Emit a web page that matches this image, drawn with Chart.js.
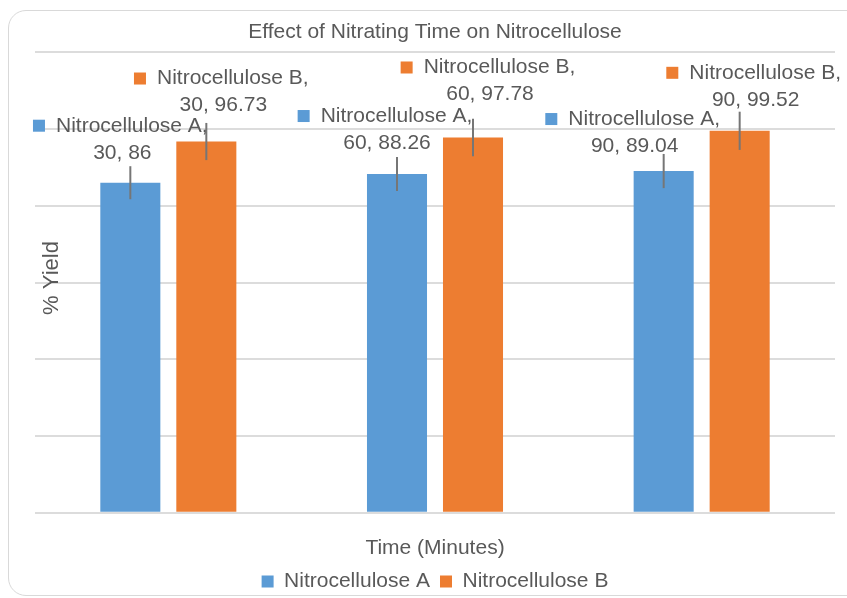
<!DOCTYPE html>
<html>
<head>
<meta charset="utf-8">
<script src="https://cdn.jsdelivr.net/npm/chart.js@4.4.1/dist/chart.umd.min.js"></script>
<style>
  html, body { margin: 0; padding: 0; background: #fff; overflow: hidden; }
  #wrap { position: relative; width: 847px; height: 598px; }
  #frame { position: absolute; left: 8px; top: 10px; width: 900px; height: 586px;
           border: 1.5px solid #d9d9d9; border-radius: 18px; box-sizing: border-box; }
  canvas { position: absolute; left: 0; top: 0; }
</style>
</head>
<body>
<div id="wrap">
  <div id="frame"></div>
  <canvas id="c" width="847" height="598"></canvas>
</div>
<script>
// ---- data ----
const categories = ['30', '60', '90'];
const seriesNames = ['Nitrocellulose A', 'Nitrocellulose B'];
const seriesA = [86, 88.26, 89.04];
const seriesB = [96.73, 97.78, 99.52];
const errorA = [4.3, 4.41, 4.45];
const errorB = [4.84, 4.89, 4.98];
const yTickValues = [0, 20, 40, 60, 80, 100, 120];

// ---- styles ----
const colA = '#5B9BD5';
const colB = '#ED7D31';
const textCol = '#595959';
const FONT = '"Liberation Sans", Arial, sans-serif';
// label offsets (dx from bar centre, dy of 2nd line from bar top), pixels
const labelOffA = [[-8, -30], [-10, -31], [-29, -25]];
const labelOffB = [[17, -36], [17, -43], [16, -31]];

const errorBarPlugin = {
  id: 'errorBars',
  afterDatasetsDraw(chart) {
    const ctx = chart.ctx, y = chart.scales.y;
    const errs = [errorA, errorB];
    ctx.save();
    ctx.strokeStyle = '#767676';
    ctx.lineWidth = 2;
    chart.data.datasets.forEach((ds, di) => {
      chart.getDatasetMeta(di).data.forEach((bar, i) => {
        const v = ds.data[i], e = errs[di][i];
        ctx.beginPath();
        ctx.moveTo(bar.x, y.getPixelForValue(v + e));
        ctx.lineTo(bar.x, y.getPixelForValue(v - e));
        ctx.stroke();
      });
    });
    ctx.restore();
  }
};

const labelPlugin = {
  id: 'dataLabels',
  afterDraw(chart) {
    const ctx = chart.ctx;
    const offs = [labelOffA, labelOffB];
    const cols = [colA, colB];
    ctx.save();
    ctx.font = '21px ' + FONT;
    ctx.textBaseline = 'middle';
    chart.data.datasets.forEach((ds, di) => {
      chart.getDatasetMeta(di).data.forEach((bar, i) => {
        const cx = bar.x + offs[di][i][0];
        const y2 = bar.y + offs[di][i][1];
        const y1 = y2 - 27;
        const line1 = ds.label + ',';
        const w1 = ctx.measureText(line1).width;
        const total = 12 + 11 + w1;
        const x0 = cx - total / 2 - 2;
        ctx.fillStyle = cols[di];
        ctx.fillRect(x0, y1 - 6, 12, 12);
        ctx.fillStyle = textCol;
        ctx.textAlign = 'left';
        ctx.fillText(line1, x0 + 23, y1);
        ctx.textAlign = 'center';
        ctx.fillText(categories[i] + ', ' + ds.data[i], cx, y2);
      });
    });
    // y axis title
    ctx.translate(52, 278);
    ctx.rotate(-Math.PI / 2);
    ctx.textAlign = 'center';
    ctx.font = '22px ' + FONT;
    ctx.fillStyle = textCol;
    ctx.fillText('% Yield', 0, 0);
    ctx.restore();
  }
};

new Chart(document.getElementById('c'), {
  type: 'bar',
  data: {
    labels: categories,
    datasets: [
      { label: seriesNames[0], data: seriesA, backgroundColor: colA,
        categoryPercentage: 0.57, barPercentage: 0.79 },
      { label: seriesNames[1], data: seriesB, backgroundColor: colB,
        categoryPercentage: 0.57, barPercentage: 0.79 }
    ]
  },
  options: {
    responsive: false,
    animation: false,
    devicePixelRatio: 1,
    layout: { padding: { left: 35, right: 12, top: 0, bottom: -4 } },
    plugins: {
      title: { display: true, text: 'Effect of Nitrating Time on Nitrocellulose',
               color: textCol, font: { family: FONT, size: 21, weight: 'normal' },
               padding: { top: 20, bottom: 7 } },
      legend: { display: true, position: 'bottom',
                labels: { color: textCol, boxWidth: 12, boxHeight: 12, padding: 10,
                          font: { family: FONT, size: 21 } } },
      tooltip: { enabled: false }
    },
    scales: {
      x: {
        grid: { display: false },
        border: { display: false },
        ticks: { display: false },
        title: { display: true, text: 'Time (Minutes)', color: textCol,
                 font: { family: FONT, size: 21 }, padding: { top: 15, bottom: 0 } }
      },
      y: {
        min: yTickValues[0], max: yTickValues[yTickValues.length - 1],
        afterBuildTicks(scale) { scale.ticks = yTickValues.map(v => ({ value: v })); },
        grid: { color: '#dcdcdc', lineWidth: 2, drawTicks: false },
        border: { display: false },
        ticks: { display: false }
      }
    }
  },
  plugins: [errorBarPlugin, labelPlugin]
});
</script>
</body>
</html>
